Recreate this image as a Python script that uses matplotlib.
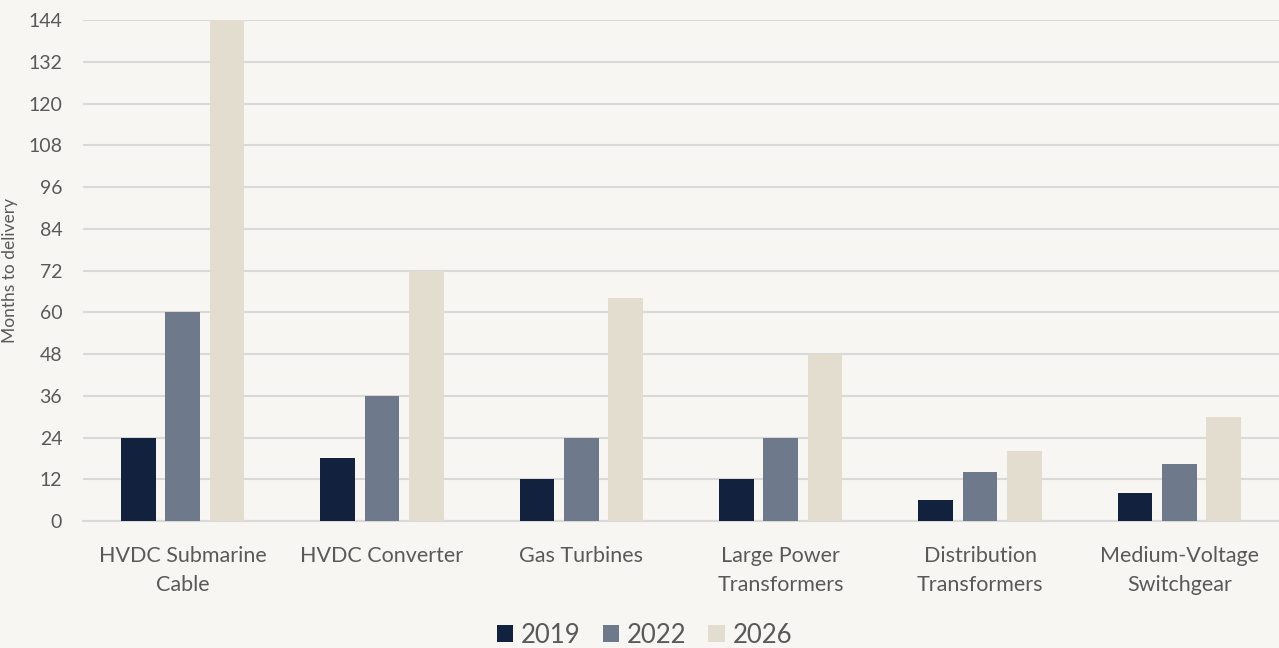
import matplotlib
matplotlib.use('Agg')
import matplotlib.pyplot as plt
import numpy as np

# data
categories = ['HVDC Submarine\nCable', 'HVDC Converter', 'Gas Turbines',
              'Large Power\nTransformers', 'Distribution\nTransformers',
              'Medium-Voltage\nSwitchgear']
years = ['2019', '2022', '2026']
v2019 = [24, 18, 12, 12, 6, 8]
v2022 = [60, 36, 24, 24, 14, 16.5]
v2026 = [144, 72, 64, 48, 20, 30]
yticks = list(range(0, 145, 12))

colors = ['#12213D', '#6E7A8C', '#E3DDD0']
bg = '#F7F6F2'
txt = '#595959'

plt.rcParams['font.family'] = ['Lato', 'DejaVu Sans']

fig = plt.figure(figsize=(12.79, 6.48), dpi=100, facecolor=bg)
ax = fig.add_axes([0.0649, 0.196, 0.9351, 0.773], facecolor=bg)

x = np.arange(len(categories))
w = 0.175
step = 0.2225
for i, (vals, yr) in enumerate(zip([v2019, v2022, v2026], years)):
    ax.bar(x + (i - 1) * step, vals, width=w, color=colors[i], label=yr, zorder=3)

ax.set_xlim(-0.5, len(categories) - 0.5)
ax.set_ylim(0, 144)
ax.set_yticks(yticks)
ax.yaxis.grid(True, color='#D9D9D9', linewidth=1.5, zorder=0)
ax.set_axisbelow(True)
for s in ['top', 'right', 'left']:
    ax.spines[s].set_visible(False)
ax.spines['bottom'].set_color('#D9D9D9')
ax.spines['bottom'].set_linewidth(1.5)
ax.tick_params(axis='y', length=0, pad=15, labelsize=14, labelcolor=txt)
ax.tick_params(axis='x', length=0, pad=18, labelsize=15.5, labelcolor=txt)
ax.set_xticks(x)
ax.set_xticklabels(categories, linespacing=1.55)
ax.set_ylabel('Months to delivery', fontsize=12.5, color=txt)
ax.yaxis.set_label_coords(-0.0545, 0.5)

ax.legend(loc='center', bbox_to_anchor=(0.4695, -0.2285), ncol=3, frameon=False,
          fontsize=18.5, labelcolor=txt, handlelength=0.65, handleheight=0.65,
          handletextpad=0.3, columnspacing=0.85)

fig.savefig('out.png', dpi=100, facecolor=bg)
